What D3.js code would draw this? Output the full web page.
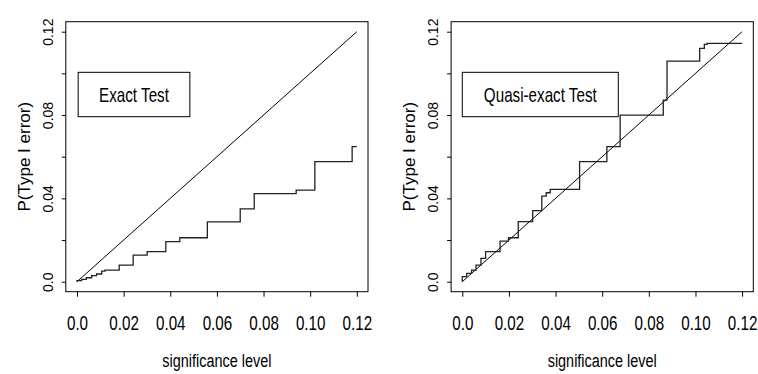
<!DOCTYPE html>
<html>
<head>
<meta charset="utf-8">
<script src="https://cdn.jsdelivr.net/npm/d3@7"></script>
<style>
  body { margin: 0; background: #fff; }
  text { font-family: "Liberation Sans", Arial, sans-serif; fill: #000; }
</style>
</head>
<body>
<div id="chart"></div>
<script>
// Tick values and labels
const sigTicks = [0, 0.02, 0.04, 0.06, 0.08, 0.10, 0.12];
const sigLabels = ["0.0", "0.02", "0.04", "0.06", "0.08", "0.10", "0.12"];
const probTicks = [0, 0.02, 0.04, 0.06, 0.08, 0.10, 0.12];
const probLabels = ["0.0", "", "0.04", "", "0.08", "", "0.12"];

// Exact test: step function (alpha where the step starts, P(type I error))
const exactAlpha = [0, 0, 0.002, 0.004, 0.0063, 0.0084, 0.0106, 0.012, 0.0181, 0.0241, 0.0301, 0.0381,
  0.0441, 0.0559, 0.070, 0.076, 0.094, 0.102, 0.118, 0.120];
const exactP = [0, 0.0005, 0.0011, 0.0019, 0.0029, 0.0037, 0.0051, 0.0056, 0.008, 0.0128, 0.0144, 0.0192,
  0.0211, 0.0287, 0.035, 0.0423, 0.044, 0.0576, 0.0648, 0.0648];

// Quasi-exact test
const quasiAlpha = [0, 0, 0.0019, 0.004, 0.0059, 0.008, 0.010, 0.0162, 0.0198, 0.024, 0.0302, 0.0341,
  0.036, 0.0377, 0.0503, 0.062, 0.0677, 0.0862, 0.0878, 0.1018, 0.1038, 0.105, 0.12];
const quasiP = [0, 0.0024, 0.004, 0.0056, 0.008, 0.0112, 0.0144, 0.0195, 0.0211, 0.0288, 0.0341, 0.0411,
  0.0427, 0.0443, 0.0576, 0.0648, 0.080, 0.0872, 0.1059, 0.112, 0.1139, 0.1144, 0.1144];

const panelTitles = ["Exact Test", "Quasi-exact Test"];
// legend boxes in data units: [x0, x1, y0, y1]
const boxExtents = [[0.0005, 0.0484, 0.0792, 0.1005], [0.0, 0.0669, 0.0792, 0.1005]];

const W = 758, H = 374;
const svg = d3.select("#chart").append("svg")
  .attr("width", W).attr("height", H);

const panels = [
  { left: 65.8, alpha: exactAlpha, p: exactP },
  { left: 451.1, alpha: quasiAlpha, p: quasiP }
];
const pw = 302.2, plotTop = 21.7, ph = 270;

// condensed text helper (original used a narrow face)
const narrow = 0.76;

panels.forEach(function (pn, i) {
  const g = svg.append("g").attr("transform", `translate(${pn.left}, ${plotTop})`);

  const x = d3.scaleLinear().domain([-0.0048, 0.1248]).range([0, pw]);
  const y = d3.scaleLinear().domain([-0.0048, 0.1248]).range([ph, 0]);

  // frame
  g.append("rect")
    .attr("x", 0).attr("y", 0)
    .attr("width", pw).attr("height", ph)
    .attr("fill", "none").attr("stroke", "#000").attr("stroke-width", 1);

  // x axis
  const xa = g.append("g")
    .attr("transform", `translate(0, ${ph})`)
    .call(d3.axisBottom(x).tickValues(sigTicks).tickSize(5)
      .tickFormat(function (d, k) { return sigLabels[k]; }));
  xa.select(".domain").remove();
  xa.selectAll("line").attr("stroke", "#000");
  xa.selectAll("text")
    .attr("y", 0).attr("dy", null)
    .attr("transform", `translate(0, 38) scale(${narrow}, 1)`)
    .attr("font-size", 20).attr("font-family", null);

  // y axis
  const ya = g.append("g")
    .call(d3.axisLeft(y).tickValues(probTicks).tickSize(4)
      .tickFormat(function (d, k) { return probLabels[k]; }));
  ya.select(".domain").remove();
  ya.selectAll("line").attr("stroke", "#000");
  ya.selectAll("text")
    .attr("x", 0).attr("y", -13).attr("dy", null)
    .attr("transform", "rotate(-90)")
    .attr("text-anchor", "middle")
    .attr("font-size", 14).attr("font-family", null);

  // axis titles
  g.append("text")
    .attr("transform", `translate(${x(0.06)}, ${ph + 75}) scale(${narrow}, 1)`)
    .attr("text-anchor", "middle")
    .attr("font-size", 19)
    .text("significance level");

  g.append("text")
    .attr("transform", `translate(-36, ${y(0.06)}) rotate(-90)`)
    .attr("text-anchor", "middle")
    .attr("font-size", 17)
    .text("P(Type I error)");

  // reference diagonal
  g.append("line")
    .attr("x1", x(0)).attr("y1", y(0))
    .attr("x2", x(0.12)).attr("y2", y(0.12))
    .attr("stroke", "#000").attr("stroke-width", 1);

  // step function
  const pts = pn.alpha.map(function (a, k) { return [a, pn.p[k]]; });
  g.append("path")
    .datum(pts)
    .attr("fill", "none")
    .attr("stroke", "#222")
    .attr("stroke-width", 1.3)
    .attr("d", d3.line()
      .x(function (d) { return x(d[0]); })
      .y(function (d) { return y(d[1]); })
      .curve(d3.curveStepAfter));

  // label box
  const b = boxExtents[i];
  g.append("rect")
    .attr("x", x(b[0])).attr("y", y(b[3]))
    .attr("width", x(b[1]) - x(b[0]))
    .attr("height", y(b[2]) - y(b[3]))
    .attr("fill", "#fff").attr("stroke", "#000").attr("stroke-width", 1);
  g.append("text")
    .attr("transform", `translate(${(x(b[0]) + x(b[1])) / 2}, ${(y(b[2]) + y(b[3])) / 2 + 7}) scale(${narrow}, 1)`)
    .attr("text-anchor", "middle")
    .attr("font-size", 20)
    .text(panelTitles[i]);
});
</script>
</body>
</html>
